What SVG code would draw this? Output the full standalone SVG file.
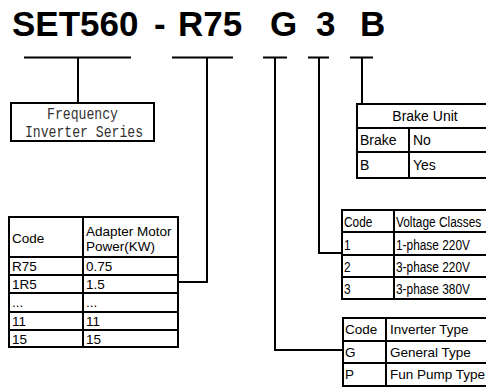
<svg xmlns="http://www.w3.org/2000/svg" width="486" height="387" viewBox="0 0 486 387">
<style>
.ln{stroke:#000;stroke-width:2;fill:none}
.tb{stroke:#000;stroke-width:2;fill:#fff}
.title{font-family:"Liberation Sans",Arial,sans-serif;font-weight:bold;font-size:35px;fill:#000}
.t{font-family:"Liberation Sans",Arial,sans-serif;font-size:13.5px;fill:#000}
.tb14{font-family:"Liberation Sans",Arial,sans-serif;font-size:14px;fill:#000}
.nar{font-family:"Liberation Sans",Arial,sans-serif;font-size:14.5px;fill:#000}
.mono{font-family:"Liberation Mono","Courier New",monospace;font-size:16.5px;fill:#333}
</style>
<rect width="486" height="387" fill="#fff"/>
<g id="title">
<text class="title" y="36"><tspan x="12">SET560</tspan><tspan x="154">-</tspan><tspan x="178">R75</tspan><tspan x="270">G</tspan><tspan x="316">3</tspan><tspan x="360">B</tspan></text>
</g>
<g id="connectors">
<path class="ln" d="M24 57.5H131M172 57.5H233M263 57.5H287M308 57.5H329M350 57.5H373"/>
<path class="ln" d="M78 57.5V103"/>
<path class="ln" d="M207 57.5V282H178"/>
<path class="ln" d="M275 57.5V350H343"/>
<path class="ln" d="M319 57.5V253H342"/>
<path class="ln" d="M362 57.5V104"/>
</g>
<g id="series">
<rect class="tb" x="11" y="103" width="143" height="38"/>
<text class="mono" x="82.5" y="119" text-anchor="middle" textLength="71" lengthAdjust="spacingAndGlyphs">Frequency</text>
<text class="mono" x="84" y="137" text-anchor="middle" textLength="118" lengthAdjust="spacingAndGlyphs">Inverter Series</text>
</g>
<g id="power-table">
<rect class="tb" x="9" y="217" width="169" height="130"/>
<path class="ln" d="M83 217V347M9 257H178M9 275H178M9 293H178M9 312H178M9 330H178"/>
<text class="t" x="12" y="243">Code</text>
<text class="t" x="86" y="236">Adapter Motor</text>
<text class="t" x="86" y="251">Power(KW)</text>
<text class="t" x="12" y="271">R75</text><text class="t" x="86" y="271">0.75</text>
<text class="t" x="12" y="289">1R5</text><text class="t" x="86" y="289">1.5</text>
<text class="t" x="12" y="307" fill="#666">...</text><text class="t" x="86" y="307" fill="#666">...</text>
<text class="t" x="12" y="326">11</text><text class="t" x="86" y="326">11</text>
<text class="t" x="12" y="344">15</text><text class="t" x="86" y="344">15</text>
</g>
<g id="brake-table">
<rect class="tb" x="357" y="104" width="140" height="74"/>
<path class="ln" d="M357 128H497M357 152H497M409 128V178"/>
<text class="tb14" x="425" y="121" text-anchor="middle">Brake Unit</text>
<text class="tb14" x="360" y="145">Brake</text><text class="tb14" x="413" y="145">No</text>
<text class="tb14" x="360" y="170">B</text><text class="tb14" x="413" y="170">Yes</text>
</g>
<g id="voltage-table">
<rect class="tb" x="342" y="210" width="155" height="89"/>
<path class="ln" d="M342 232H497M342 255H497M342 277H497M394 210V299"/>
<g transform="matrix(0.82 0 0 1 0 0)">
<text class="nar" x="419.5" y="227">Code</text>
<text class="nar" x="482.9" y="227">Voltage Classes</text>
<text class="nar" x="419.5" y="250">1</text>
<text class="nar" x="482.9" y="250">1-phase 220V</text>
<text class="nar" x="419.5" y="272">2</text>
<text class="nar" x="482.9" y="272">3-phase 220V</text>
<text class="nar" x="419.5" y="294">3</text>
<text class="nar" x="482.9" y="294">3-phase 380V</text>
</g>
</g>
<g id="type-table">
<rect class="tb" x="343" y="318" width="154" height="68"/>
<path class="ln" d="M343 341H497M343 363H497M386 318V386"/>
<text class="t" x="345" y="334">Code</text><text class="t" x="390" y="334">Inverter Type</text>
<text class="t" x="345" y="357">G</text><text class="t" x="390" y="357">General Type</text>
<text class="t" x="345" y="379">P</text><text class="t" x="390" y="379">Fun Pump Type</text>
</g>
</svg>
